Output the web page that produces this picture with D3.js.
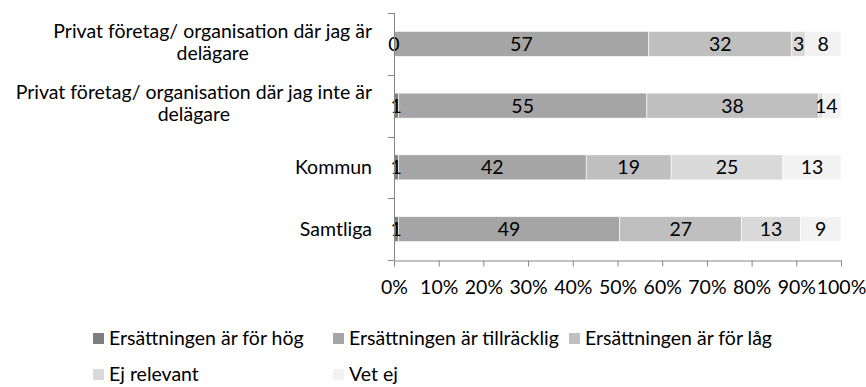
<!DOCTYPE html>
<html>
<head>
<meta charset="utf-8">
<script src="https://cdn.jsdelivr.net/npm/d3@7"></script>
<style>
  html, body { margin: 0; padding: 0; background: #fff; }
  svg { display: block; }
  text { font-family: Lato, "Open Sans", sans-serif; fill: #000; }
</style>
</head>
<body>
<svg id="chart" width="866" height="387"></svg>
<script>
// Categories (top to bottom), each possibly wrapped over two lines
const categories = [
  "Privat företag/ organisation där jag är delägare",
  "Privat företag/ organisation där jag inte är delägare",
  "Kommun",
  "Samtliga"
];
const categoryLines = [
  ["Privat företag/ organisation där jag är", "delägare"],
  ["Privat företag/ organisation där jag inte är", "delägare"],
  ["Kommun"],
  ["Samtliga"]
];

// Series (answers), values in percent per category
const seriesNames = [
  "Ersättningen är för hög",
  "Ersättningen är tillräcklig",
  "Ersättningen är för låg",
  "Ej relevant",
  "Vet ej"
];
const forHog      = [0, 1, 1, 1];
const tillracklig = [57, 55, 42, 49];
const forLag      = [32, 38, 19, 27];
const ejRelevant  = [3, 1, 25, 13];
const vetEj       = [8, 4, 13, 9];

const xTickValues = [0, 0.1, 0.2, 0.3, 0.4, 0.5, 0.6, 0.7, 0.8, 0.9, 1];

const seriesColors = ["#7f7f7f", "#a5a5a5", "#bfbfbf", "#d9d9d9", "#f2f2f2"];

// Build rows for the stack layout
const seriesValues = [forHog, tillracklig, forLag, ejRelevant, vetEj];
const rows = categories.map((c, i) => {
  const r = { category: c };
  seriesNames.forEach((s, j) => { r[s] = seriesValues[j][i]; });
  return r;
});

const stacked = d3.stack()
  .keys(seriesNames)
  .offset(d3.stackOffsetExpand)(rows);

const svg = d3.select("#chart");
const FONT = 19.5;
const CAP = 7; // half the cap height, used to centre text vertically

const plot = { left: 394, right: 841, top: 13, bottom: 260 };

const x = d3.scaleLinear().domain([0, 1]).range([plot.left, plot.right]);
const y = d3.scaleBand()
  .domain(categories)
  .range([plot.top, plot.bottom])
  .paddingInner(0.595)
  .paddingOuter(0.2975);

const axisColor = "#868686";

// Bars
const layer = svg.append("g")
  .selectAll("g")
  .data(stacked)
  .join("g")
  .attr("fill", (d, i) => seriesColors[i]);

layer.selectAll("rect")
  .data(d => d.map(p => ({ p, key: d.key })))
  .join("rect")
  .attr("x", d => x(d.p[0]))
  .attr("y", d => y(d.p.data.category))
  .attr("width", d => Math.max(0, x(d.p[1]) - x(d.p[0])))
  .attr("height", y.bandwidth())
  .attr("stroke", "#fff")
  .attr("stroke-width", 0.6);

// Value labels centered in each segment
const labels = svg.append("g")
  .attr("font-size", FONT)
  .attr("text-anchor", "middle");

stacked.forEach((s) => {
  labels.selectAll(null)
    .data(s)
    .join("text")
    .attr("x", d => x((d[0] + d[1]) / 2))
    .attr("y", d => y(d.data.category) + y.bandwidth() / 2 + CAP)
    .text(d => d.data[s.key]);
});

// Vertical (category) axis with ticks at band boundaries
const yAxis = svg.append("g").attr("stroke", axisColor).attr("stroke-width", 1);
yAxis.append("line")
  .attr("x1", plot.left + 0.5).attr("x2", plot.left + 0.5)
  .attr("y1", plot.top).attr("y2", plot.bottom);
d3.range(categories.length + 1).forEach(i => {
  const yy = Math.round(plot.top + i * y.step()) + 0.5;
  yAxis.append("line")
    .attr("x1", plot.left - 6).attr("x2", plot.left)
    .attr("y1", yy).attr("y2", yy);
});

// Category labels
const catLabels = svg.append("g").attr("font-size", FONT);
categories.forEach((c, i) => {
  const cy = y(c) + y.bandwidth() / 2;
  const lines = categoryLines[i];
  if (lines.length === 1) {
    catLabels.append("text")
      .attr("x", 372).attr("y", cy + CAP)
      .attr("text-anchor", "end")
      .text(lines[0]);
  } else {
    const t1 = catLabels.append("text")
      .attr("y", cy - 6.3)
      .attr("text-anchor", "middle")
      .text(lines[0]);
    const w = t1.node().getComputedTextLength();
    const cx = 372 - w / 2;
    t1.attr("x", cx);
    catLabels.append("text")
      .attr("x", cx).attr("y", cy + 15.8)
      .attr("text-anchor", "middle")
      .text(lines[1]);
  }
});

// Horizontal percentage axis
const xAxis = d3.axisBottom(x)
  .tickValues(xTickValues)
  .tickFormat(d3.format(".0%"))
  .tickSize(6)
  .tickSizeOuter(0);

const gx = svg.append("g")
  .attr("transform", `translate(0,${plot.bottom + 0.5})`)
  .call(xAxis);
gx.select(".domain").attr("stroke", axisColor);
gx.selectAll(".tick line").attr("stroke", axisColor);
gx.selectAll(".tick text")
  .attr("font-size", FONT)
  .attr("fill", "#000")
  .attr("dy", null)
  .attr("y", 33.5);
gx.attr("font-family", null).attr("font-size", null);

// Legend
const legendPos = [
  [93, 333], [333, 333], [569, 333],
  [93, 369], [333, 369]
];
const legend = svg.append("g").attr("font-size", FONT);
seriesNames.forEach((name, i) => {
  const [lx, ly] = legendPos[i];
  legend.append("rect")
    .attr("x", lx).attr("y", ly)
    .attr("width", 11).attr("height", 11)
    .attr("fill", seriesColors[i]);
  legend.append("text")
    .attr("x", lx + 16).attr("y", ly + 12)
    .text(name);
});
</script>
</body>
</html>
